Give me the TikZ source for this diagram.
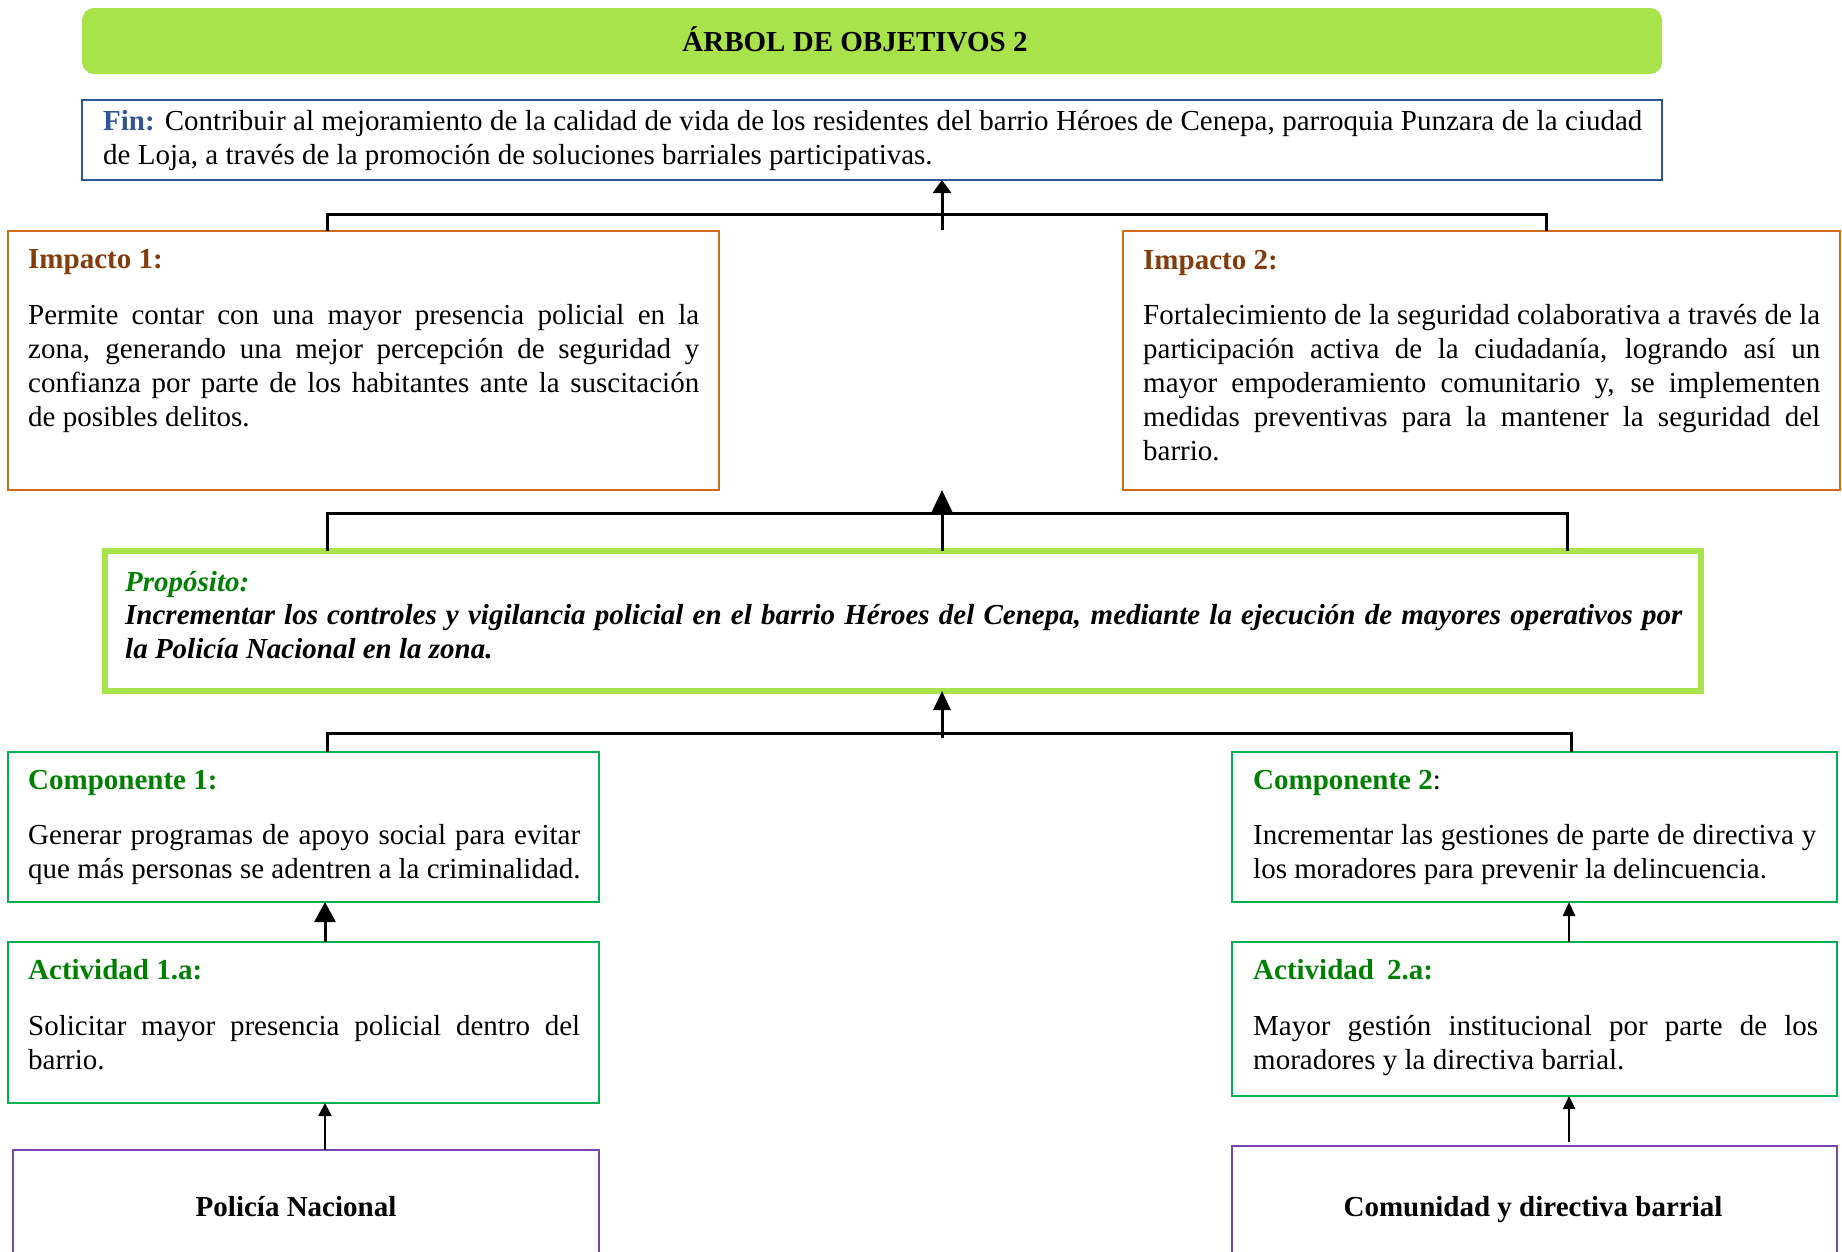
\documentclass[tikz,border=0pt]{standalone}
\usepackage{fontspec}
\setmainfont{Liberation Serif}
\usetikzlibrary{arrows.meta}
\definecolor{limeg}{HTML}{A9E34B}
\definecolor{finblue}{HTML}{2F5597}
\definecolor{impor}{HTML}{D36B16}
\definecolor{impbr}{HTML}{843C0C}
\definecolor{headg}{HTML}{008000}
\definecolor{compg}{HTML}{00B050}
\definecolor{purp}{HTML}{7A45AA}
\newcommand\mybx[6]{\node[box,#6,minimum width=#4pt,minimum height=#5pt] (#1) at (#2,#3) {};}
\newcommand\myjl[5]{\node[txt] (#1) at (#2,#3) {\makebox[#4pt][s]{#5}};}
\newcommand\myll[4]{\node[txt] (#1) at (#2,#3) {#4};}
\begin{document}
\begin{tikzpicture}[x=1pt,y=-1pt,
  txt/.style={font=\fontsize{29.0}{34}\selectfont, inner sep=0pt, anchor=base west},
  box/.style={draw, anchor=north west, inner sep=0pt, outer sep=0pt},
  bus/.style={line width=3pt},
  finbox/.style={draw=finblue, line width=2.5pt},
  impbox/.style={draw=impor, line width=2.5pt},
  propbox/.style={draw=limeg, line width=6pt},
  compbox/.style={draw=compg, line width=2.5pt},
  actorbox/.style={draw=purp, line width=2.5pt}
]
\clip (0,0) rectangle (1842,1251);
\fill[white] (0,0) rectangle (1842,1251);

% title
\node[box, draw=none, fill=limeg, rounded corners=12pt, minimum width=1580pt, minimum height=66pt] (title) at (82,8) {};
\node[txt, anchor=base] (titletxt) at (855,51) {\textbf{ÁRBOL DE OBJETIVOS 2}};

% boxes
\mybx{fin}{82}{100}{1580}{80}{finbox}
\mybx{imp1}{8}{231}{711}{259}{impbox}
\mybx{imp2}{1123}{231}{717}{259}{impbox}
\mybx{prop}{105}{551}{1596}{140}{propbox}
\mybx{comp1}{8}{752}{591}{150}{compbox}
\mybx{comp2}{1232}{752}{605}{150}{compbox}
\mybx{act1}{8}{942}{591}{161}{compbox}
\mybx{act2}{1232}{942}{605}{154}{compbox}
\mybx{pol}{13}{1150}{586}{130}{actorbox}
\mybx{com}{1232}{1146}{605}{134}{actorbox}

% fin text
\myjl{fin1}{103}{130}{1539}{\textbf{\color{finblue}Fin:} Contribuir al mejoramiento de la calidad de vida de los residentes del barrio Héroes de Cenepa, parroquia Punzara de la ciudad}
\myll{fin2}{103}{164}{de Loja, a través de la promoción de soluciones barriales participativas.}

% impact 1
\myll{imp1h}{28}{268}{\textbf{\color{impbr}Impacto 1:}}
\myjl{imp1a}{28}{324}{671}{Permite contar con una mayor presencia policial en la}
\myjl{imp1b}{28}{358}{671}{zona, generando una mejor percepción de seguridad y}
\myjl{imp1c}{28}{392}{671}{confianza por parte de los habitantes ante la suscitación}
\myll{imp1d}{28}{426}{de posibles delitos.}

% impact 2
\myll{imp2h}{1143}{269}{\textbf{\color{impbr}Impacto 2:}}
\myjl{imp2a}{1143}{324}{677}{Fortalecimiento de la seguridad colaborativa a través de la}
\myjl{imp2b}{1143}{358}{677}{participación activa de la ciudadanía, logrando así un}
\myjl{imp2c}{1143}{392}{677}{mayor empoderamiento comunitario y, se implementen}
\myjl{imp2d}{1143}{426}{677}{medidas preventivas para la mantener la seguridad del}
\myll{imp2e}{1143}{460}{barrio.}

% proposito
\myll{proph}{125}{591}{\textbf{\textit{\color{headg}Propósito:}}}
\myjl{propa}{125}{624}{1557}{\bfseries\itshape Incrementar los controles y vigilancia policial en el barrio Héroes del Cenepa, mediante la ejecución de mayores operativos por}
\myll{propb}{125}{658}{\textbf{\textit{la Policía Nacional en la zona.}}}

% componente 1
\myll{comp1h}{28}{789}{\textbf{\color{headg}Componente 1:}}
\myjl{comp1a}{28}{844}{552}{Generar programas de apoyo social para evitar}
\myll{comp1b}{28}{878}{que más personas se adentren a la criminalidad.}

% componente 2
\myll{comp2h}{1253}{789}{\textbf{\color{headg}Componente 2}:}
\myjl{comp2a}{1253}{844}{563}{Incrementar las gestiones de parte de directiva y}
\myll{comp2b}{1253}{878}{los moradores para prevenir la delincuencia.}

% actividad 1
\myll{act1h}{28}{979}{\textbf{\color{headg}Actividad 1.a:}}
\myjl{act1a}{28}{1035}{552}{Solicitar mayor presencia policial dentro del}
\myll{act1b}{28}{1069}{barrio.}

% actividad 2
\myll{act2h}{1253}{979}{\textbf{\color{headg}Actividad\hspace{0.45em}2.a:}}
\myjl{act2a}{1253}{1035}{565}{Mayor gestión institucional por parte de los}
\myll{act2b}{1253}{1069}{moradores y la directiva barrial.}

% actors
\node[txt, anchor=base] (poltxt) at (296,1216) {\textbf{Policía Nacional}};
\node[txt, anchor=base] (comtxt) at (1533,1216) {\textbf{Comunidad y directiva barrial}};

% connector coordinates
\coordinate (mid) at (942,0);
\coordinate (lx) at (325,0);
\coordinate (rx) at (1569,0);
\coordinate (b1l) at (327,214);
\coordinate (b1r) at (1546,214);
\coordinate (b2l) at (327,513);
\coordinate (b2r) at (1567,513);
\coordinate (b3l) at (327,733);
\coordinate (b3r) at (1571,733);
\coordinate (a1) at (942,230);
\coordinate (a3) at (942,738);

% bus 1
\draw[bus] (imp1.north -| b1l) -- (b1l) -- (b1r) -- (imp2.north -| b1r);
\draw[bus, -{Triangle[width=18pt,length=13pt]}] (a1) -- (fin.south -| mid);

% bus 2
\draw[bus] (prop.north -| b2l) -- (b2l) -- (b2r) -- (prop.north -| b2r);
\draw[bus, -{Triangle[width=22pt,length=24pt]}] (prop.north -| mid) -- (imp1.south -| mid);

% bus 3
\draw[bus] (comp1.north -| b3l) -- (b3l) -- (b3r) -- (comp2.north -| b3r);
\draw[bus, -{Triangle[width=17pt,length=19pt]}] (a3) -- (prop.south -| mid);

% vertical arrows
\draw[bus, -{Triangle[width=21pt,length=20pt]}] (act1.north -| lx) -- (comp1.south -| lx);
\draw[line width=2.5pt, -{Triangle[width=12pt,length=14pt]}] (act2.north -| rx) -- (comp2.south -| rx);
\draw[line width=2.5pt, -{Triangle[width=13pt,length=13pt]}] (pol.north -| lx) -- (act1.south -| lx);
\draw[line width=2.5pt, -{Triangle[width=12pt,length=13pt]}] ([yshift=4pt]com.north -| rx) -- (act2.south -| rx);
\end{tikzpicture}
\end{document}
